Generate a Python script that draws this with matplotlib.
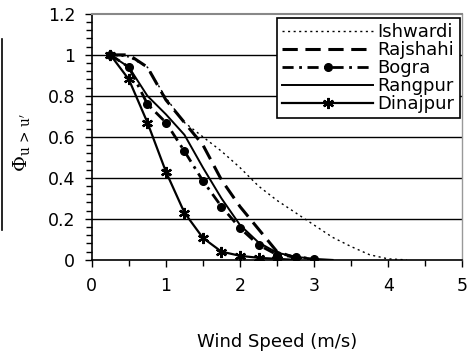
import matplotlib
matplotlib.use("Agg")
import matplotlib.pyplot as plt
from matplotlib.lines import Line2D
from matplotlib.ticker import MultipleLocator

plt.rcParams['font.family'] = ['DejaVu Sans']
plt.rcParams['mathtext.fontset'] = 'dejavuserif'

# data
ishwardi_x = [0.25, 0.5, 0.75, 1.0, 1.25, 1.5, 1.75, 2.0, 2.25, 2.5, 2.75, 3.0, 3.25, 3.5, 3.75, 4.0, 4.25]
ishwardi_y = [1.0, 0.99, 0.94, 0.79, 0.67, 0.60, 0.53, 0.45, 0.36, 0.29, 0.23, 0.17, 0.11, 0.065, 0.025, 0.005, 0.0]

rajshahi_x = [0.25, 0.5, 0.75, 1.0, 1.25, 1.5, 1.75, 2.0, 2.25, 2.5, 2.75, 3.0]
rajshahi_y = [1.0, 1.0, 0.94, 0.78, 0.67, 0.56, 0.39, 0.26, 0.15, 0.04, 0.01, 0.0]

bogra_x = [0.25, 0.5, 0.75, 1.0, 1.25, 1.5, 1.75, 2.0, 2.25, 2.5, 2.75, 3.0]
bogra_y = [1.0, 0.94, 0.76, 0.67, 0.53, 0.385, 0.26, 0.155, 0.073, 0.025, 0.015, 0.005]

rangpur_x = [0.25, 0.5, 0.75, 1.0, 1.25, 1.5, 1.75, 2.0, 2.25, 2.5, 2.75, 3.0, 3.25]
rangpur_y = [1.0, 0.94, 0.80, 0.71, 0.61, 0.45, 0.30, 0.17, 0.085, 0.035, 0.015, 0.005, 0.0]

dinajpur_x = [0.25, 0.5, 0.75, 1.0, 1.25, 1.5, 1.75, 2.0, 2.25, 2.5, 2.75]
dinajpur_y = [1.0, 0.88, 0.67, 0.43, 0.23, 0.107, 0.04, 0.02, 0.01, 0.005, 0.0]

yticks = [0, 0.2, 0.4, 0.6, 0.8, 1.0, 1.2]
ytick_labels = ['0', '0.2', '0.4', '0.6', '0.8', '1', '1.2']
xticks = [0, 1, 2, 3, 4, 5]

fig = plt.figure(figsize=(4.76, 3.56), dpi=100)
ax = fig.add_axes([0.193, 0.270, 0.778, 0.691])

for y in yticks[1:-1]:
    ax.axhline(y, color='black', lw=1.0, zorder=1)

ax.plot(ishwardi_x, ishwardi_y, color='black', lw=1.0, ls=(0, (1.5, 2.5)), label='Ishwardi', zorder=3)
ax.plot(rajshahi_x, rajshahi_y, color='black', lw=2.2, ls=(0, (5, 2.5)), label='Rajshahi', zorder=3)
ax.plot(bogra_x, bogra_y, color='black', lw=2.0, ls=(0, (4, 2, 1, 2)), marker='o', ms=5.5,
        label='Bogra', zorder=4)
ax.plot(rangpur_x, rangpur_y, color='black', lw=1.4, label='Rangpur', zorder=3)
ax.plot(dinajpur_x, dinajpur_y, color='black', lw=1.6, marker=(6, 2, 0), ms=8, mew=1.6,
        label='Dinajpur', zorder=4)

ax.set_xlim(0, 5)
ax.set_ylim(0, 1.2)
ax.set_xticks(xticks)
ax.xaxis.set_minor_locator(MultipleLocator(0.5))
ax.set_yticks(yticks)
ax.set_yticklabels(ytick_labels)
ax.yaxis.set_minor_locator(MultipleLocator(0.04))
ax.tick_params(axis='both', which='both', direction='out', width=1.0, color='black')
ax.tick_params(axis='both', which='major', length=5, labelsize=12.5, pad=7)
ax.tick_params(axis='both', which='minor', length=4)

ax.spines['left'].set_linewidth(1.2)
ax.spines['bottom'].set_linewidth(1.2)
ax.spines['top'].set_color('#888888')
ax.spines['top'].set_linewidth(1.5)
ax.spines['right'].set_color('#999999')
ax.spines['right'].set_linewidth(1.0)

ax.set_xlabel('Wind Speed (m/s)', fontsize=13, labelpad=28)
fig.text(0.045, 0.60, r"$\Phi_{\mathrm{u\,>\,u'}}$", rotation=90, fontsize=14, ha='center', va='center')

leg = ax.legend(loc='upper right', bbox_to_anchor=(0.993, 0.985), fontsize=13, frameon=True,
                fancybox=False, edgecolor='black', handlelength=5.0, handletextpad=0.25,
                labelspacing=0.0, borderpad=0.3, borderaxespad=0)
leg.get_frame().set_linewidth(1.2)
leg.get_frame().set_alpha(1)

# clipped frame edge at the far left
fig.add_artist(Line2D([0.005, 0.005], [0.355, 0.89], color='black', lw=1.2))

fig.savefig('out.png', dpi=100)
